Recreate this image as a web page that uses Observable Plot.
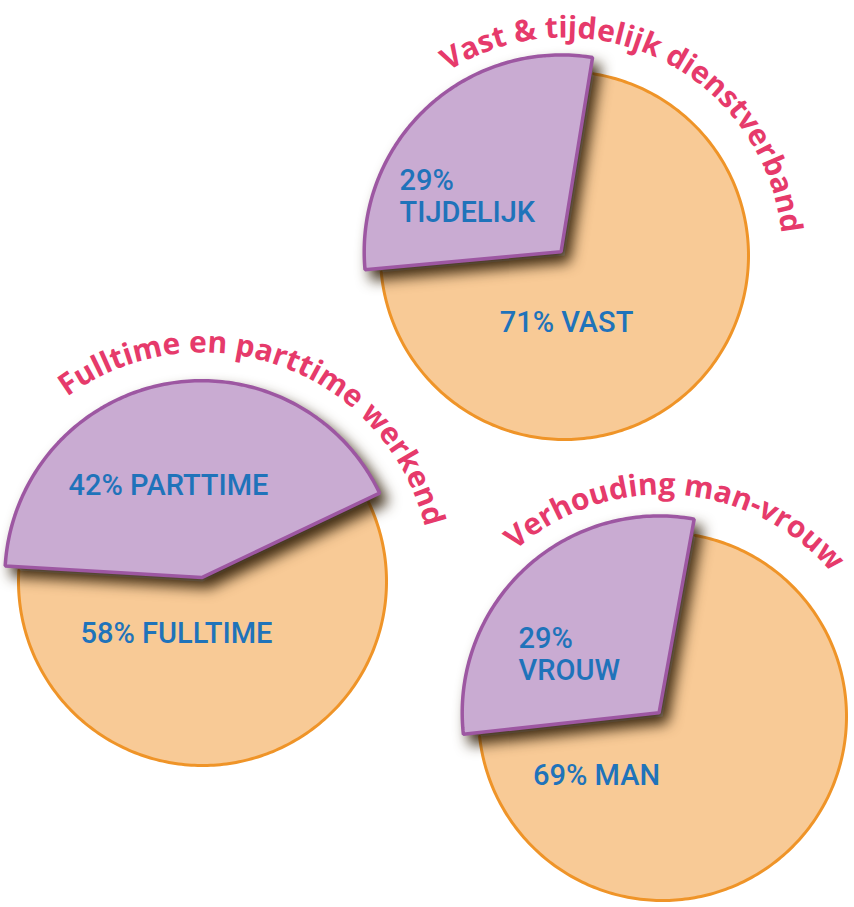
<!DOCTYPE html>
<html><head><meta charset="utf-8">
<script src="https://cdn.jsdelivr.net/npm/d3@7"></script>
<script src="https://cdn.jsdelivr.net/npm/@observablehq/plot@0.6"></script>
<style>
body{margin:0;background:#fff;}
</style></head>
<body>
<div id="chart"></div>
<script>
// ---- data ----
const titles = ["Vast & tijdelijk dienstverband", "Fulltime en parttime werkend", "Verhouding man-vrouw"];
const mainLabels = ["VAST", "FULLTIME", "MAN"];
const mainValues = [71, 58, 69];
const splitLabels = ["TIJDELIJK", "PARTTIME", "VROUW"];
const splitValues = [29, 42, 29];

// ---- layout (positions / styling only) ----
const W = 854, H = 907;
const layout = [
  {cx: 564, cy: 255, r: 184, bis: -43, explode: 5, grow: 1.07, titleR: 218, titleMid: 26,
   mainDx: 2, mainDy: 67, splitDx: -165, splitDy: -60, splitWrap: true},
  {cx: 202, cy: 581, r: 184, bis: -11, explode: 4, grow: 1.07, titleR: 229, titleMid: 20,
   mainDx: -26, mainDy: 52, splitDx: -34, splitDy: -96, splitWrap: false},
  {cx: 662, cy: 716, r: 184, bis: -43, explode: 5, grow: 1.07, titleR: 222, titleMid: 4,
   mainDx: -66, mainDy: 59, splitDx: -144, splitDy: -63, splitWrap: true}
];
const titleFont = '"Open Sans", "DejaVu Sans", sans-serif';
const titleSize = 30;
const labelFont = 'Roboto, "DejaVu Sans Condensed", sans-serif';
const labelSize = 29;

const rad = d => d * Math.PI / 180;
const polar = (cx, cy, r, a) => [cx + r * Math.sin(rad(a)), cy - r * Math.cos(rad(a))];
function arcPts(cx, cy, r, a0, a1) {
  const n = Math.max(2, Math.ceil(Math.abs(a1 - a0)));
  const pts = [];
  for (let i = 0; i <= n; i++) pts.push(polar(cx, cy, r, a0 + (a1 - a0) * i / n));
  return pts;
}

const orangeFill = [], orangeArc = [], purple = [], labelsMid = [], labelsStart = [], titleChars = [];
const canvas = document.createElement("canvas");
const ctx = canvas.getContext("2d");
ctx.font = `bold ${titleSize}px ${titleFont}`;

layout.forEach((L, i) => {
  const pie = d3.pie().sort(null).value(d => d)([splitValues[i], mainValues[i]]);
  const span = (pie[0].endAngle - pie[0].startAngle) * 180 / Math.PI;
  const s0 = L.bis - span / 2, s1 = L.bis + span / 2;
  const m0 = s1, m1 = s0 + 360;
  orangeFill.push({pie: i, x: L.cx, y: L.cy});
  arcPts(L.cx, L.cy, L.r, m0, m1).forEach(([x, y]) => {
    orangeFill.push({pie: i, x, y});
    orangeArc.push({pie: i, x, y});
  });
  const [ax, ay] = polar(L.cx, L.cy, L.explode, L.bis);
  purple.push({pie: i, x: ax, y: ay});
  arcPts(ax, ay, L.r * L.grow, s0, s1).forEach(([x, y]) => purple.push({pie: i, x, y}));
  labelsMid.push({x: L.cx + L.mainDx, y: L.cy + L.mainDy, text: `${mainValues[i]}% ${mainLabels[i]}`});
  const st = `${splitValues[i]}%${L.splitWrap ? "\n" : " "}${splitLabels[i]}`;
  (L.splitWrap ? labelsStart : labelsMid).push({x: L.cx + L.splitDx, y: L.cy + L.splitDy, text: st});
  const chars = Array.from(titles[i]);
  const widths = chars.map(c => ctx.measureText(c).width);
  const total = d3.sum(widths);
  let s = 0;
  chars.forEach((c, k) => {
    const mid = s + widths[k] / 2;
    s += widths[k];
    if (c === " ") return;
    const a = L.titleMid + (mid - total / 2) / L.titleR * 180 / Math.PI;
    const [x, y] = polar(L.cx, L.cy, L.titleR, a);
    titleChars.push({ch: c, x, y, rot: a});
  });
});

const chart = Plot.plot({
  width: W, height: H, margin: 0,
  x: {domain: [0, W], range: [0, W], axis: null},
  y: {domain: [0, H], range: [0, H], axis: null},
  style: {background: "white", overflow: "visible"},
  marks: [
    Plot.line(orangeFill, {x: "x", y: "y", z: "pie", fill: "#f8ca96", stroke: "none", curve: "linear-closed"}),
    Plot.line(orangeArc, {x: "x", y: "y", z: "pie", stroke: "#ef9428", strokeWidth: 3, fill: "none"}),
    Plot.line(purple, {x: "x", y: "y", z: "pie", fill: "#c9abd2", stroke: "#9d57a2", strokeWidth: 3.5,
      strokeLinejoin: "miter", curve: "linear-closed"}),
    Plot.text(labelsMid, {x: "x", y: "y", text: "text", fontFamily: labelFont, fontSize: labelSize,
      fontWeight: 500, fill: "#1f73ba", textAnchor: "middle"}),
    Plot.text(labelsStart, {x: "x", y: "y", text: "text", fontFamily: labelFont, fontSize: labelSize,
      fontWeight: 500, fill: "#1f73ba", textAnchor: "start", lineHeight: 1.12}),
    Plot.text(titleChars, {x: "x", y: "y", text: "ch", rotate: "rot", fontFamily: titleFont,
      fontSize: titleSize, fontWeight: "bold", fill: "#e63a6b", textAnchor: "middle", lineAnchor: "bottom"})
  ]
});
// soft drop shadow under the exploded slices (third line mark)
const svg = d3.select(chart.tagName.toLowerCase() === "svg" ? chart : chart.querySelector("svg"));
const f = svg.insert("defs", ":first-child").append("filter").attr("id", "sliceShadow")
  .attr("filterUnits", "userSpaceOnUse").attr("x", 0).attr("y", 0).attr("width", W).attr("height", H)
  .attr("color-interpolation-filters", "sRGB");
f.append("feDropShadow").attr("dx", 7).attr("dy", 9).attr("stdDeviation", 7)
  .attr("flood-color", "#35230c").attr("flood-opacity", 0.95);
const lineGroups = svg.selectAll('g[aria-label="line"]').nodes();
if (lineGroups[2]) d3.select(lineGroups[2]).attr("filter", "url(#sliceShadow)");
document.getElementById("chart").appendChild(chart);
</script>
</body></html>
